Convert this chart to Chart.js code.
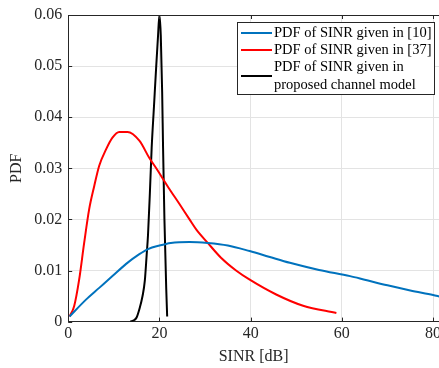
<!DOCTYPE html>
<html>
<head>
<meta charset="utf-8">
<script src="https://cdn.jsdelivr.net/npm/chart.js@4"></script>
<style>
  html, body { margin: 0; padding: 0; background: #fff; }
  canvas { display: block; }
</style>
</head>
<body>
<canvas id="grafico" width="439" height="368"></canvas>
<script>
// curve of [10]
const sinrRef10 = [0.3, 3.9, 6.8, 9.7, 12.7, 15.6, 17.5, 20, 22.5, 26.6, 30.6, 35, 39.8, 44, 48.6, 55, 61.8, 65, 70, 75, 80, 81.5];
const pdfRef10 = [0.001, 0.0043, 0.0066, 0.0089, 0.0113, 0.0132, 0.0142, 0.0149, 0.0154, 0.0156, 0.0154, 0.0149, 0.0138, 0.0127, 0.0115, 0.0101, 0.0089, 0.0082, 0.0071, 0.0061, 0.0052, 0.0049];

// curve of [37]
const sinrRef37 = [0.3, 1.3, 2.4, 3.5, 4.6, 5.7, 6.8, 8.3, 9.7, 11.2, 13, 15.6, 17.8, 19.3, 22, 24.4, 26.6, 28.1, 30.6, 33.5, 36.8, 39.8, 45.6, 51.5, 58.8];
const pdfRef37 = [0.001, 0.003, 0.0082, 0.0154, 0.022, 0.0265, 0.0305, 0.0337, 0.036, 0.0371, 0.0371, 0.0354, 0.032, 0.03, 0.0262, 0.023, 0.02, 0.018, 0.0154, 0.0125, 0.01, 0.0082, 0.0053, 0.0031, 0.0017];

// proposed channel model
const sinrProp = [13.6, 14.5, 15, 15.6, 16.3, 16.8, 17.2, 17.5, 17.9, 18.3, 18.8, 19.3, 19.7, 20, 20.3, 20.6, 20.8, 21.1, 21.5, 21.7];
const pdfProp = [0, 0.0003, 0.0008, 0.0024, 0.005, 0.008, 0.013, 0.017, 0.025, 0.034, 0.042, 0.05, 0.056, 0.06, 0.056, 0.045, 0.034, 0.02, 0.0063, 0.001];

const xTicks = [0, 20, 40, 60, 80];
const yTicks = [0, 0.01, 0.02, 0.03, 0.04, 0.05, 0.06];
const serieLabels = ['PDF of SINR given in [10]', 'PDF of SINR given in [37]', ['PDF of SINR given in', 'proposed channel model']];
const serieColors = ['#0072bd', '#ff0000', '#000000'];

const toPoints = (xs, ys) => xs.map((x, i) => ({ x: x, y: ys[i] }));
const serif = 'Liberation Serif, Times New Roman, serif';
const axisColor = '#262626';

// matlab style box + legend
const cajaPlugin = {
  id: 'caja',
  afterDraw(chart) {
    const ctx = chart.ctx;
    const a = chart.chartArea;
    const xs = chart.scales.x;
    ctx.save();
    ctx.strokeStyle = axisColor;
    ctx.lineWidth = 1;
    ctx.beginPath();
    ctx.moveTo(a.left, a.top + 0.5);
    ctx.lineTo(a.right, a.top + 0.5);
    xTicks.forEach(t => {
      const px = Math.round(xs.getPixelForValue(t)) + 0.5;
      ctx.moveTo(px, a.top);
      ctx.lineTo(px, a.top + 4);
      ctx.moveTo(px, a.bottom);
      ctx.lineTo(px, a.bottom - 4);
    });
    const ys = chart.scales.y;
    yTicks.forEach(t => {
      const py = Math.round(ys.getPixelForValue(t)) + 0.5;
      ctx.moveTo(a.left, py);
      ctx.lineTo(a.left + 4, py);
    });
    ctx.stroke();

    // legend
    const bx = 237.5, by = 22.5, bw = 197, bh = 72;
    ctx.fillStyle = '#fff';
    ctx.fillRect(bx, by, bw, bh);
    ctx.strokeStyle = '#262626';
    ctx.strokeRect(bx, by, bw, bh);
    ctx.font = '14.5px ' + serif;
    ctx.textBaseline = 'middle';
    ctx.fillStyle = '#000';
    const rows = [[33], [50], [67, 85]];
    serieLabels.forEach((lab, i) => {
      const lines = Array.isArray(lab) ? lab : [lab];
      const ly = lines.length > 1 ? (rows[i][0] + rows[i][1]) / 2 : rows[i][0];
      ctx.strokeStyle = serieColors[i];
      ctx.lineWidth = 2;
      ctx.beginPath();
      ctx.moveTo(241, ly);
      ctx.lineTo(272, ly);
      ctx.stroke();
      lines.forEach((t, j) => ctx.fillText(t, 274, rows[i][j]));
    });
    ctx.restore();
  }
};

new Chart(document.getElementById('grafico'), {
  type: 'line',
  data: {
    datasets: [
      { label: 'PDF of SINR given in [10]', data: toPoints(sinrRef10, pdfRef10), borderColor: serieColors[0] },
      { label: 'PDF of SINR given in [37]', data: toPoints(sinrRef37, pdfRef37), borderColor: serieColors[1] },
      { label: 'PDF of SINR given in proposed channel model', data: toPoints(sinrProp, pdfProp), borderColor: serieColors[2] }
    ].map(d => Object.assign(d, { borderWidth: 2, pointRadius: 0, cubicInterpolationMode: 'monotone', fill: false }))
  },
  options: {
    responsive: false,
    animation: false,
    layout: { padding: { left: 7, top: 15, right: 0, bottom: 2 } },
    plugins: { legend: { display: false }, tooltip: { enabled: false } },
    scales: {
      x: {
        type: 'linear',
        min: 0,
        max: 81.3,
        afterBuildTicks: s => { s.ticks = xTicks.map(v => ({ value: v })); },
        afterFit: s => { s.paddingRight = 0; s.paddingLeft = 0; },
        ticks: { color: axisColor, font: { family: serif, size: 16 }, padding: 3, maxRotation: 0 },
        grid: { color: '#e3e3e3', drawTicks: false },
        border: { color: axisColor },
        title: { display: true, text: 'SINR [dB]', color: axisColor, font: { family: serif, size: 16 }, padding: { top: 0, bottom: 0 } }
      },
      y: {
        min: 0,
        max: 0.06,
        afterBuildTicks: s => { s.ticks = yTicks.map(v => ({ value: v })); },
        afterFit: s => { s.paddingTop = 0; s.paddingBottom = 0; },
        ticks: { color: axisColor, font: { family: serif, size: 16 }, padding: 6, callback: v => String(+v.toFixed(2)) },
        grid: { color: '#e3e3e3', drawTicks: false },
        border: { color: axisColor },
        title: { display: true, text: 'PDF', color: axisColor, font: { family: serif, size: 16 }, padding: { top: 0, bottom: 2 } }
      }
    }
  },
  plugins: [cajaPlugin]
});
</script>
</body>
</html>
